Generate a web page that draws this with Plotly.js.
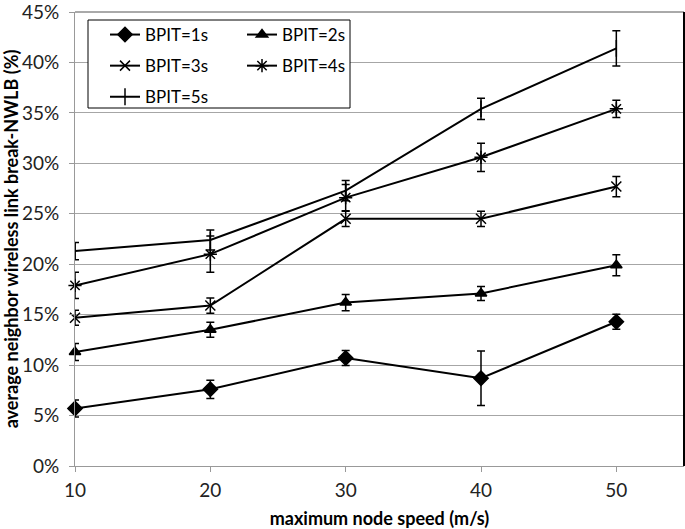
<!DOCTYPE html>
<html>
<head>
<meta charset="utf-8">
<script src="https://cdn.plot.ly/plotly-3.0.1.min.js"></script>
<style>html,body{margin:0;padding:0;background:#fff;}#chart{width:685px;height:529px;}</style>
</head>
<body>
<div id="chart"></div>
<script>
const speeds = [10, 20, 30, 40, 50];
const bpit1 = [5.7, 7.6, 10.7, 8.7, 14.3];
const err1  = [0.85, 0.9, 0.75, 2.7, 0.75];
const bpit2 = [11.3, 13.5, 16.2, 17.1, 19.9];
const err2  = [0.85, 0.75, 0.8, 0.7, 1.05];
const bpit3 = [14.7, 15.9, 24.5, 24.5, 27.7];
const err3  = [0.75, 0.75, 0.75, 0.75, 1.0];
const bpit4 = [17.9, 21.0, 26.6, 30.6, 35.4];
const err4  = [1.3, 1.8, 1.3, 1.4, 0.85];
const bpit5 = [21.3, 22.4, 27.3, 35.4, 41.4];
const err5  = [0.85, 1.0, 1.0, 1.05, 1.75];
const names = ['BPIT=1s', 'BPIT=2s', 'BPIT=3s', 'BPIT=4s', 'BPIT=5s'];
const yTicks = [0, 5, 10, 15, 20, 25, 30, 35, 40, 45];
const xTicks = [10, 20, 30, 40, 50];

const FONT = 'Lato, "Open Sans", sans-serif';
function mk(name, y, e, symbol, size, legend, group) {
  return {
    type: 'scatter', mode: 'lines+markers', name: name, x: speeds, y: y,
    legend: legend, legendgroup: group, cliponaxis: false,
    line: {color: '#000', width: 2},
    marker: {symbol: symbol, size: size, color: '#000', line: {color: '#000', width: 1.5}},
    error_y: {type: 'data', array: e, visible: true, color: '#000', thickness: 1.5, width: 4}
  };
}
const data = [
  mk(names[0], bpit1, err1, 'diamond', 11, 'legend', 'g1'),
  mk(names[2], bpit3, err3, 'x-thin-open', 10, 'legend', 'g3'),
  mk(names[4], bpit5, err5, 'line-ns-open', 12, 'legend', 'g5'),
  mk(names[1], bpit2, err2, 'triangle-up', 10, 'legend2', 'g2'),
  mk(names[3], bpit4, err4, 'asterisk-open', 11, 'legend2', 'g4')
];
const L = 75, R = 684, T = 12, B = 466;
const px = v => (v - L) / (R - L);
const py = v => (B - v) / (B - T);
const legendCommon = {
  bgcolor: 'rgba(0,0,0,0)', borderwidth: 0, xanchor: 'left', yanchor: 'top',
  font: {family: FONT, size: 17, color: '#000'}, tracegroupgap: 6, itemwidth: 30
};
const layout = {
  width: 685, height: 529,
  margin: {l: L, r: 685 - R, t: T, b: 529 - B},
  paper_bgcolor: '#fff', plot_bgcolor: '#fff',
  font: {family: FONT, size: 16, color: '#222'},
  showlegend: true,
  legend: Object.assign({x: px(105), y: py(17)}, legendCommon),
  legend2: Object.assign({x: px(242), y: py(17)}, legendCommon),
  xaxis: {
    range: [10, 55], tickvals: xTicks, ticktext: xTicks.map(String),
    showgrid: false, zeroline: false, showline: true, linecolor: '#999', linewidth: 1,
    ticks: 'outside', ticklen: 5, tickcolor: '#999', ticklabelstandoff: 2,
    tickfont: {family: FONT, size: 19, color: '#222'},
    title: {text: 'maximum node speed (m/s)', font: {family: FONT, size: 18, color: '#000', weight: 'bold'}, standoff: 24}
  },
  yaxis: {
    range: [0, 45.001], tickvals: yTicks, ticktext: yTicks.map(v => v + '%'),
    ticklabeloverflow: 'allow',
    showgrid: true, gridcolor: '#a6a6a6', gridwidth: 1, zeroline: false,
    showline: true, linecolor: '#999', linewidth: 1,
    ticks: 'outside', ticklen: 5, tickcolor: '#999', ticklabelstandoff: 6,
    tickfont: {family: FONT, size: 19, color: '#222'},
    title: {text: 'average neighbor wireless link break-NWLB (%)', font: {family: FONT, size: 18, color: '#000', weight: 'bold'}, standoff: 6}
  },
  shapes: [
    {type: 'rect', xref: 'paper', yref: 'paper', x0: px(88), x1: px(350), y0: py(108), y1: py(20),
     fillcolor: '#fff', line: {color: '#000', width: 1}, layer: 'above'},
    {type: 'line', xref: 'paper', yref: 'paper', x0: 0, x1: 1, y0: 1, y1: 1, line: {color: '#555', width: 1}, layer: 'above'},
    {type: 'line', xref: 'paper', yref: 'paper', x0: 1, x1: 1, y0: 0, y1: 1, line: {color: '#000', width: 2}, layer: 'above'}
  ]
};
Plotly.newPlot('chart', data, layout, {displayModeBar: false, staticPlot: true});
</script>
</body>
</html>
